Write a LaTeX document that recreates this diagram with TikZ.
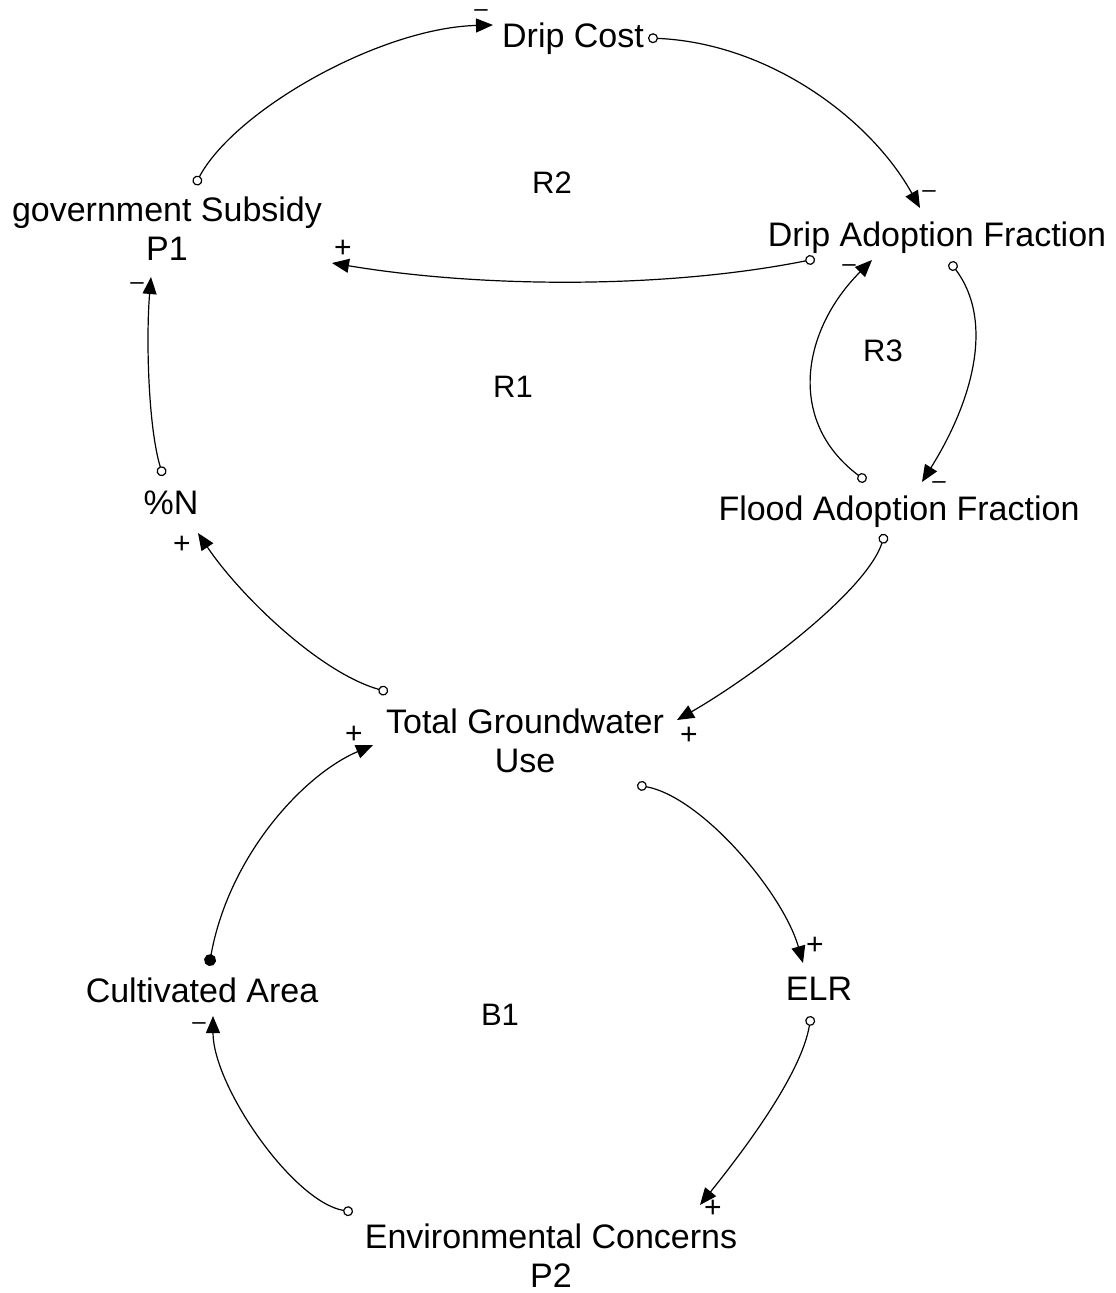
\documentclass[tikz,border=0pt]{standalone}
\usepackage{fontspec}
\setmainfont{Liberation Sans}
\usetikzlibrary{arrows.meta}
\begin{document}
\begin{tikzpicture}[x=1pt,y=-1pt,
  var/.style={inner sep=0pt, align=center, font=\fontsize{34}{39}\selectfont},
  looplabel/.style={inner sep=0pt, font=\fontsize{31}{36}\selectfont},
  plus/.style={inner sep=0pt, font=\fontsize{30}{34}\selectfont},
  minus/.style={inner sep=0pt, font=\fontsize{24}{28}\selectfont},
  link/.style={line width=1.2pt,
    {Circle[fill=white,length=10pt,width=10pt]}-{Triangle[length=17pt,width=14pt]}},
  linkdot/.style={line width=1.2pt,
    {Circle[length=12pt,width=12pt]}-{Triangle[length=17pt,width=14pt]}}]

\useasboundingbox (0,0) rectangle (1116,1293);

% variables
\node[var] (dc)  at (573,39)   {Drip Cost};
\node[var] (gs)  at (167,229)  {government Subsidy\\P1};
\node[var] (daf) at (937,238)  {Drip Adoption Fraction};
\node[var] (pn)  at (171,503)  {\%N};
\node[var] (faf) at (899,512)  {Flood Adoption Fraction};
\node[var] (tgw) at (525,741)  {Total Groundwater\\Use};
\node[var] (ca)  at (202,990)  {Cultivated Area};
\node[var] (elr) at (819,989)  {ELR};
\node[var] (ec)  at (551,1256) {Environmental Concerns\\P2};

% loop identifiers
\node[looplabel] (r2) at (552,183)  {R2};
\node[looplabel] (r1) at (513,387)  {R1};
\node[looplabel] (r3) at (883,351)  {R3};
\node[looplabel] (b1) at (500,1015) {B1};

% causal links
\draw[link] ([shift={(28,-44)}]gs.center)
  .. controls +(40,-75) and +(-113,3) .. ([shift={(-80,-14)}]dc.center);
\draw[link] ([shift={(75,-1)}]dc.center)
  .. controls +(120,5) and +(-50,-90) .. ([shift={(-17,-30)}]daf.center);
\draw[link] ([shift={(-122,21)}]daf.center)
  .. controls +(-150,30) and +(150,25) .. ([shift={(165,34)}]gs.center);
\draw[link] ([shift={(-33,-31)}]faf.center)
  .. controls +(-80,-60) and +(-70,70) .. ([shift={(-65,22)}]daf.center);
\draw[link] ([shift={(13,24)}]daf.center)
  .. controls +(45,60) and +(50,-80) .. ([shift={(23,-30)}]faf.center);
\draw[link] ([shift={(-8,-27)}]pn.center)
  .. controls +(-15,-50) and +(-5,60) .. ([shift={(-16,48)}]gs.center);
\draw[link] ([shift={(-137,-49)}]tgw.center)
  .. controls +(-70,-20) and +(40,60) .. ([shift={(27,30)}]pn.center);
\draw[link] ([shift={(-14,22)}]faf.center)
  .. controls +(-20,60) and +(70,-40) .. ([shift={(152,-21)}]tgw.center);
\draw[linkdot] ([shift={(7,-24)}]ca.center)
  .. controls +(20,-110) and +(-70,30) .. ([shift={(-152,4)}]tgw.center);
\draw[link] ([shift={(112,44)}]tgw.center)
  .. controls +(65,12) and +(-20,-70) .. ([shift={(-16,-26)}]elr.center);
\draw[link] ([shift={(-8,27)}]elr.center)
  .. controls +(-10,60) and +(40,-50) .. ([shift={(149,-51)}]ec.center);
\draw[link] ([shift={(-198,-44)}]ec.center)
  .. controls +(-60,-10) and +(0,70) .. ([shift={(11,26)}]ca.center);

% link polarities
\node[minus] (p1)  at (481,13)   {\textendash};
\node[minus] (p2)  at (929,194)  {\textendash};
\node[plus]  (p3)  at (343,249)  {+};
\node[minus] (p4)  at (849,268)  {\textendash};
\node[minus] (p5)  at (939,485)  {\textendash};
\node[minus] (p6)  at (137,286)  {\textendash};
\node[plus]  (p7)  at (182,545)  {+};
\node[plus]  (p8)  at (689,736)  {+};
\node[plus]  (p9)  at (354,735)  {+};
\node[plus]  (p10) at (815,946)  {+};
\node[plus]  (p11) at (713,1209) {+};
\node[minus] (p12) at (199,1026) {\textendash};
\end{tikzpicture}
\end{document}
